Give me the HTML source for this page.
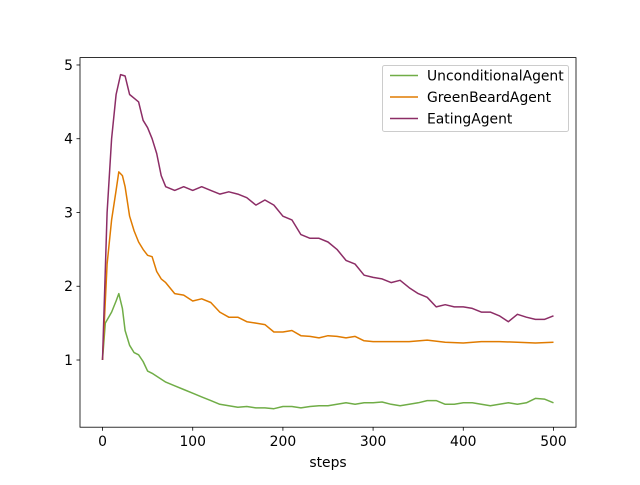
<!DOCTYPE html>
<html><head><meta charset="utf-8"><style>
body{margin:0;background:#fff;font-family:"Liberation Sans","DejaVu Sans",sans-serif}
svg text{font-family:"DejaVu Sans","Liberation Sans",sans-serif;font-size:13.9px;fill:#000}
</style></head><body>
<svg id="chart" width="640" height="480"></svg>
<script>
const unconditionalSteps=[0,3,10,15,18,22,25,30,35,40,45,50,55,60,70,80,90,100,110,120,130,140,150,160,170,180,190,200,210,220,230,240,250,260,270,280,290,300,310,320,330,340,350,360,370,380,390,400,410,420,430,440,450,460,470,480,490,500];
const unconditionalValues=[1,1.5,1.65,1.8,1.9,1.7,1.4,1.2,1.1,1.07,0.98,0.85,0.82,0.78,0.7,0.65,0.6,0.55,0.5,0.45,0.4,0.38,0.36,0.37,0.35,0.35,0.34,0.37,0.37,0.35,0.37,0.38,0.38,0.4,0.42,0.4,0.42,0.42,0.43,0.4,0.38,0.4,0.42,0.45,0.45,0.4,0.4,0.42,0.42,0.4,0.38,0.4,0.42,0.4,0.42,0.48,0.47,0.42];
const greenSteps=[0,5,10,15,18,22,25,30,35,40,45,50,55,60,65,70,80,90,100,110,120,130,140,150,160,170,180,190,200,210,220,230,240,250,260,270,280,290,300,320,340,360,380,400,420,440,460,480,500];
const greenValues=[1,2.3,2.9,3.3,3.55,3.5,3.35,2.95,2.75,2.6,2.5,2.42,2.4,2.2,2.1,2.05,1.9,1.88,1.8,1.83,1.78,1.65,1.58,1.58,1.52,1.5,1.48,1.38,1.38,1.4,1.33,1.32,1.3,1.33,1.32,1.3,1.32,1.26,1.25,1.25,1.25,1.27,1.24,1.23,1.25,1.25,1.24,1.23,1.24];
const eatingSteps=[0,5,10,15,20,25,30,35,40,45,50,55,60,65,70,80,90,100,110,120,130,140,150,160,170,180,190,200,210,220,230,240,250,260,270,280,290,300,310,320,330,340,350,360,370,380,390,400,410,420,430,440,450,460,470,480,490,500];
const eatingValues=[1,3,4.0,4.6,4.87,4.85,4.6,4.55,4.5,4.25,4.15,4.0,3.8,3.5,3.35,3.3,3.35,3.3,3.35,3.3,3.25,3.28,3.25,3.2,3.1,3.17,3.1,2.95,2.9,2.7,2.65,2.65,2.6,2.5,2.35,2.3,2.15,2.12,2.1,2.05,2.08,1.98,1.9,1.85,1.72,1.75,1.72,1.72,1.7,1.65,1.65,1.6,1.52,1.62,1.58,1.55,1.55,1.6];
const xTicks=[0,100,200,300,400,500];
const yTicks=[1,2,3,4,5];
const seriesNames=["UnconditionalAgent","GreenBeardAgent","EatingAgent"];

const NS="http://www.w3.org/2000/svg";
const svg=document.getElementById('chart');
const L=80,R=576,T=57.6,B=427.2;
const xMin=-25,xMax=525,yMin=0.089,yMax=5.1;
const xs=v=>L+(v-xMin)/(xMax-xMin)*(R-L);
const ys=v=>B-(v-yMin)/(yMax-yMin)*(B-T);
function mk(tag,attrs){const e=document.createElementNS(NS,tag);for(const k in attrs)e.setAttribute(k,attrs[k]);svg.appendChild(e);return e;}

const series=[[unconditionalSteps,unconditionalValues,"#70ad47"],[greenSteps,greenValues,"#e07b00"],[eatingSteps,eatingValues,"#8c2d66"]];
series.forEach((s,i)=>{
  const d=s[0].map((x,j)=>(j?'L':'M')+xs(x).toFixed(1)+','+ys(s[1][j]).toFixed(1)).join('');
  const p=mk('path',{d:d,fill:'none',stroke:s[2],'stroke-width':1.5,'stroke-linejoin':'round'});
  
  
});
const frame=mk('rect',{x:L,y:T,width:R-L,height:B-T,fill:'none',stroke:'#000','stroke-width':0.8});


xTicks.forEach(t=>{
  const x=xs(t);
  mk('line',{x1:x,x2:x,y1:B,y2:B+3.5,stroke:'#000','stroke-width':0.8});
  const tx=mk('text',{x:x,y:B+19,'text-anchor':'middle'});tx.textContent=t;
  
  
});
yTicks.forEach(t=>{
  const y=ys(t);
  mk('line',{x1:L-3.5,x2:L,y1:y,y2:y,stroke:'#000','stroke-width':0.8});
  const tx=mk('text',{x:L-7,y:y+5,'text-anchor':'end'});tx.textContent=t;
  
  
});
const xl=mk('text',{x:(L+R)/2,y:467,'text-anchor':'middle'});xl.textContent='steps';


const lg=mk('rect',{x:382.5,y:65.5,width:186,height:66,rx:2,fill:'#fff','fill-opacity':0.8,stroke:'#ccc'});


series.forEach((s,i)=>{
  const y=75.5+i*21.5;
  mk('line',{x1:390,x2:418,y1:y,y2:y,stroke:s[2],'stroke-width':1.5});
  const tx=mk('text',{x:427,y:y+5});tx.textContent=seriesNames[i];
  
  
});
</script>
</body></html>
